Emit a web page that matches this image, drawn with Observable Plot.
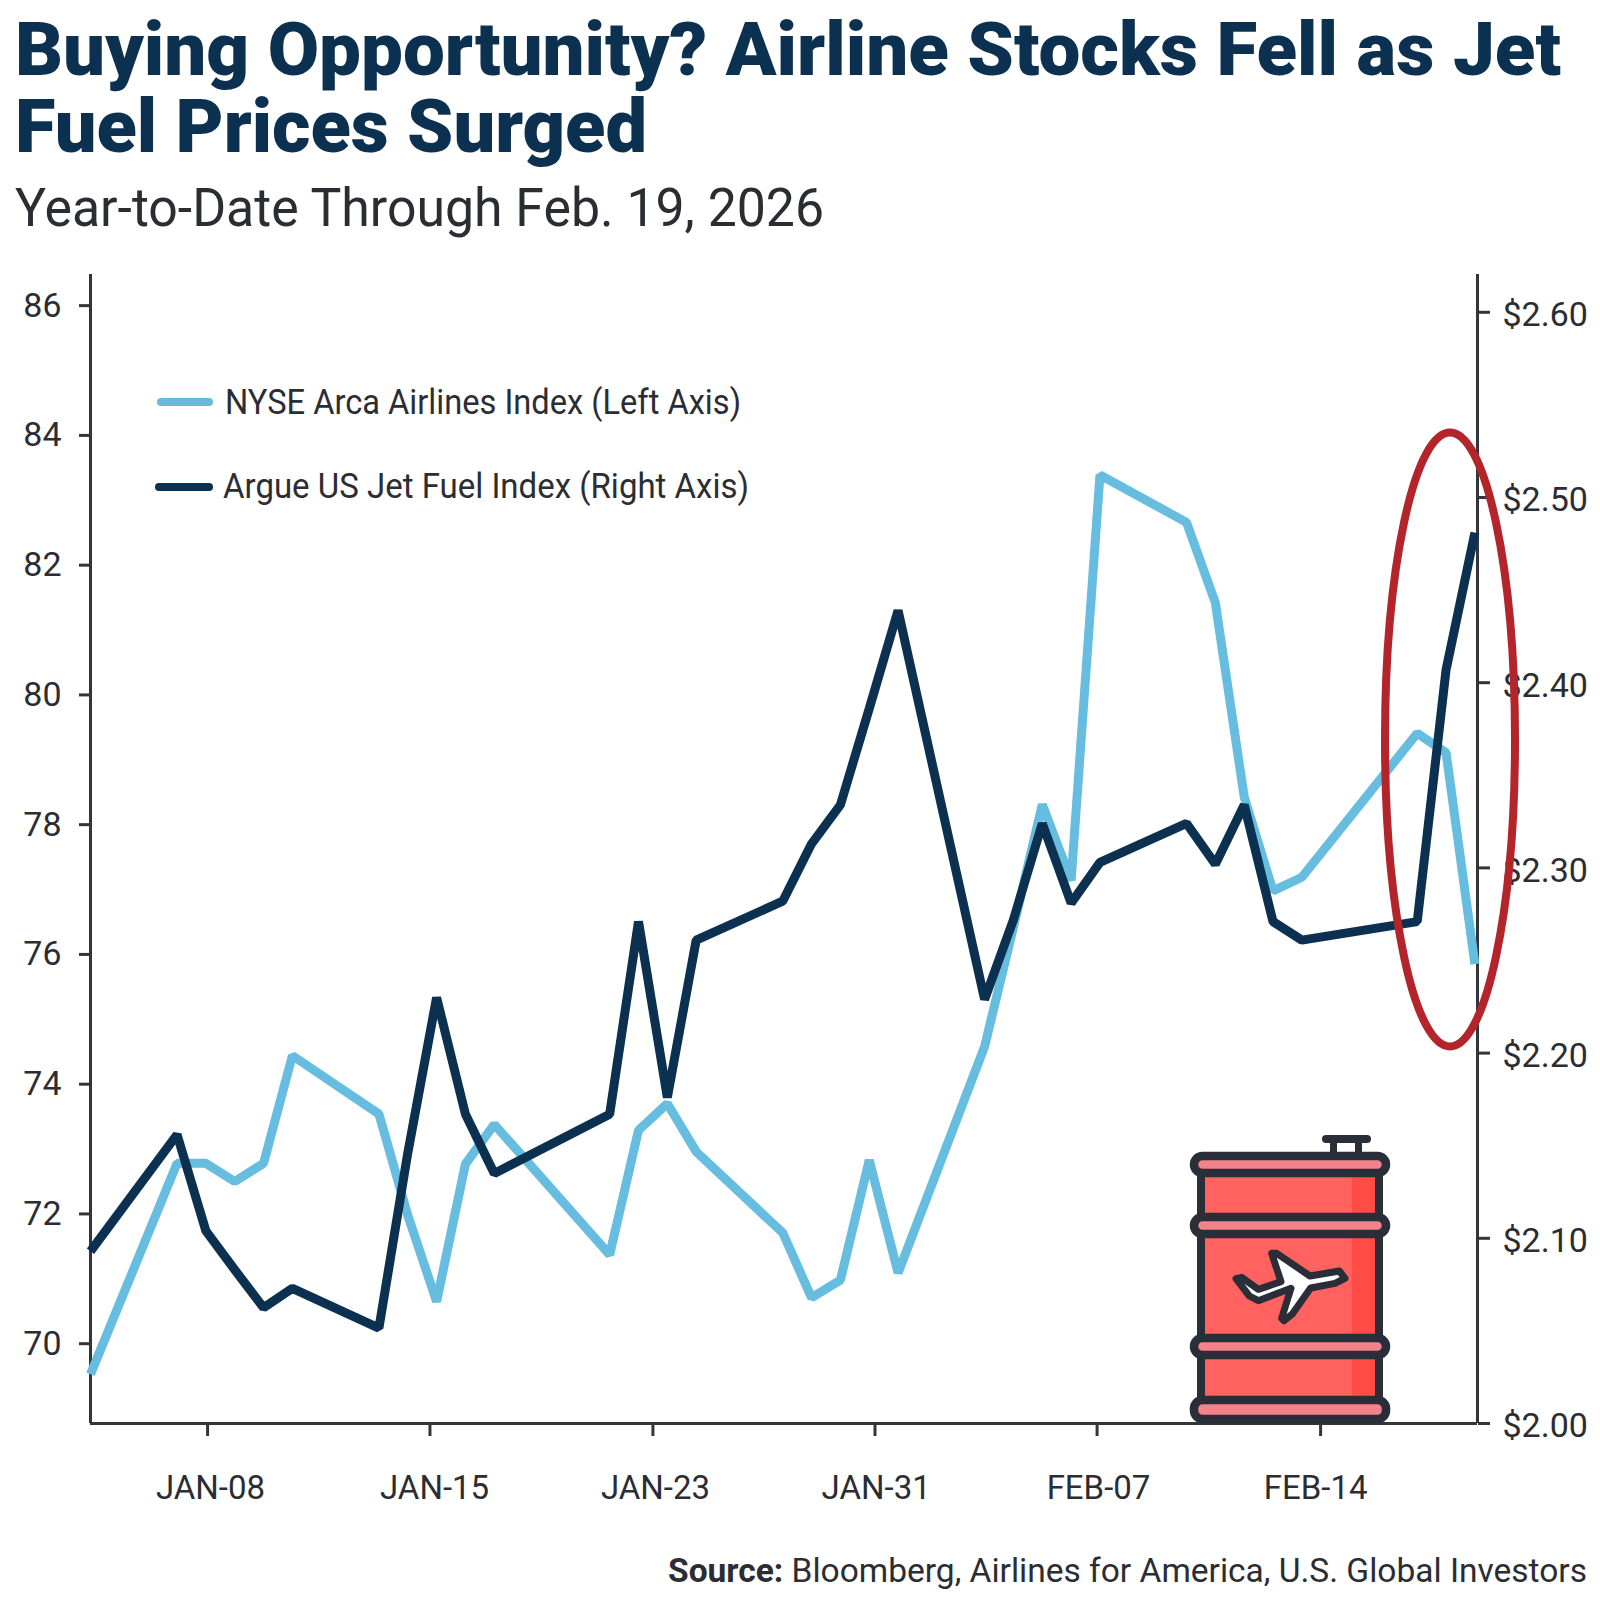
<!DOCTYPE html>
<html><head><meta charset="utf-8">
<script src="https://cdn.jsdelivr.net/npm/d3@7"></script>
<script src="https://cdn.jsdelivr.net/npm/@observablehq/plot@0.6"></script>
<style>
html,body{margin:0;padding:0;background:#fff}
#wrap{position:relative;width:1600px;height:1600px;overflow:hidden;font-family:Roboto,sans-serif;color:#2b2d33}
.t{position:absolute;white-space:nowrap;line-height:1;transform-origin:0 50%}
.title{font-weight:900;font-size:74px;color:#0c3050;left:15px}
.sub{font-size:54px;left:15px;color:#2b2d33}
.leg{font-size:35px}
.src{font-size:33px}
.sw{position:absolute;height:8px;border-radius:4px}
#plot{position:absolute;left:0;top:260px}
</style></head><body>
<div id="wrap">
<div class="t title" data-w="1546" style="top:13px">Buying Opportunity? Airline Stocks Fell as Jet</div>
<div class="t title" data-w="632" style="top:90px">Fuel Prices Surged</div>
<div class="t sub" data-w="809" style="top:181px">Year-to-Date Through Feb. 19, 2026</div>
<div id="plot"></div>
<div class="sw" style="left:157px;top:398px;width:56px;background:#6bb9d8"></div>
<div class="t leg" data-w="516" style="left:225px;top:385px">NYSE Arca Airlines Index (Left Axis)</div>
<div class="sw" style="left:155px;top:483px;width:58px;background:#0c3050"></div>
<div class="t leg" data-w="526" style="left:223px;top:469px">Argue US Jet Fuel Index (Right Axis)</div>
<div class="t src" data-w="919" style="left:668px;top:1554px"><b>Source:</b> Bloomberg, Airlines for America, U.S. Global Investors</div>
</div>
<script>
const dates = ["01-02","01-05","01-06","01-07","01-08","01-09","01-12","01-13","01-14","01-15","01-16","01-20","01-21","01-22","01-23","01-26","01-27","01-28","01-29","01-30","02-02","02-03","02-04","02-05","02-06","02-09","02-10","02-11","02-12","02-13","02-17","02-18","02-19"];
const airlines = [69.53,72.78,72.78,72.5,72.78,74.44,73.54,71.98,70.65,72.77,73.38,71.37,73.29,73.7,72.96,71.71,70.71,70.98,72.83,71.09,74.58,76.42,78.31,77.14,83.39,82.66,81.42,78.43,76.98,77.19,79.41,79.11,75.85];
const jetFuel = [2.093,2.156,2.104,2.083,2.0625,2.073,2.0515,2.146,2.23,2.167,2.135,2.167,2.271,2.176,2.261,2.282,2.313,2.334,2.386,2.439,2.229,2.272,2.324,2.281,2.303,2.324,2.302,2.334,2.271,2.261,2.271,2.407,2.481];
const xTickDays = [4.06,11.77,19.5,27.2,34.9,42.65];
const xLabelDays = [4.16,11.93,19.59,27.24,34.95,42.48];
const xTickLabels = ["JAN-08","JAN-15","JAN-23","JAN-31","FEB-07","FEB-14"];
const leftTicks = [70,72,74,76,78,80,82,84,86];
const rightTicks = [2.0,2.1,2.2,2.3,2.4,2.5,2.6];
const leftDomain = [68.77,86.48];
const rightDomain = [2.0,2.6204];
const xDomain = [0,48.09];

const day = s => (new Date("2026-"+s+"T00:00:00Z") - new Date("2026-01-02T00:00:00Z"))/864e5;
const fuelToLeft = d3.scaleLinear().domain(rightDomain).range(leftDomain);
const airlineRows = dates.map((d,i)=>({x:day(d),y:airlines[i]}));
const fuelRows = dates.map((d,i)=>({x:day(d),y:fuelToLeft(jetFuel[i])}));
const labelRows = xTickLabels.map((t,i)=>({x:xLabelDays[i],t}));
const AXIS="#33353b", TEXT="#2b2d33", TOP=260;

function decoration(){
  const ns="http://www.w3.org/2000/svg";
  const g=document.createElementNS(ns,"g");
  g.setAttribute("transform",`translate(0,${-TOP})`);
  const DARK="#2a2e38",BODY="#ff625f",SHADE="#ff4c47",BAND="#f2838a";
  const add=(tag,a)=>{const e=document.createElementNS(ns,tag);for(const k in a)e.setAttribute(k,a[k]);g.appendChild(e);return e};
  add("rect",{x:1322,y:1135,width:49,height:8,rx:4,fill:DARK});
  add("rect",{x:1330,y:1140,width:7,height:14,fill:DARK});
  add("rect",{x:1355,y:1140,width:7,height:14,fill:DARK});
  add("rect",{x:1201,y:1165,width:178,height:245,fill:BODY,stroke:DARK,"stroke-width":8});
  add("rect",{x:1352,y:1170,width:23,height:240,fill:SHADE});
  for(const y of [1152,1213,1334,1396]){
    add("rect",{x:1194,y:y+4,width:192,height:y===1396?19:17,rx:8.5,fill:BAND,stroke:DARK,"stroke-width":8.5});
  }
  const pts=[[318,566],[335,562],[385,598],[453,575],[425,490],[440,490],[540,558],[628,543],[645,565],[615,580],[542,594],[487,672],[462,692],[455,685],[483,595],[385,632],[358,618]];
  add("polygon",{points:pts.map(([a,b])=>`${1130+a/3},${1090+b/3}`).join(" "),fill:"#fff",stroke:DARK,"stroke-width":7,"stroke-linejoin":"round"});
  add("ellipse",{cx:1450,cy:739.5,rx:65,ry:307,fill:"none",stroke:"#b3242b","stroke-width":8});
  return g;
}

const chart = Plot.plot({
  width:1600,height:1250,
  marginLeft:90,marginRight:123,marginTop:14,marginBottom:87,
  style:{fontFamily:"Roboto,sans-serif",background:"#fff",overflow:"visible"},
  x:{type:"linear",domain:xDomain,axis:null},
  y:{type:"linear",domain:leftDomain,axis:null},
  marks:[
    Plot.axisY(leftTicks,{anchor:"left",label:null,tickSize:11,tickPadding:18,fontSize:34,color:TEXT,stroke:AXIS,strokeWidth:3,tickFormat:d=>String(d)}),
    Plot.axisY(rightTicks.map(fuelToLeft),{anchor:"right",label:null,tickSize:12,stroke:AXIS,strokeWidth:3,tickFormat:()=>""}),
    Plot.axisY(rightTicks.map(fuelToLeft),{anchor:"right",label:null,tickSize:0,tickPadding:25,dy:3,fontSize:34,color:TEXT,
      tickFormat:v=>"$"+fuelToLeft.invert(v).toFixed(2)}),
    Plot.axisX(xTickDays,{anchor:"bottom",label:null,tickSize:13,stroke:AXIS,strokeWidth:3,tickFormat:()=>""}),
    Plot.text(labelRows,{x:"x",text:"t",frameAnchor:"bottom",dy:75,lineAnchor:"bottom",fontSize:33,fill:TEXT}),
    Plot.ruleX([xDomain[0],xDomain[1]],{stroke:AXIS,strokeWidth:3}),
    Plot.ruleY([leftDomain[0]],{stroke:AXIS,strokeWidth:3}),
    Plot.line(airlineRows,{x:"x",y:"y",stroke:"#66bde0",strokeWidth:9,strokeLinejoin:"miter",strokeLinecap:"butt",curve:"linear"}),
    Plot.line(fuelRows,{x:"x",y:"y",stroke:"#0c3050",strokeWidth:9,strokeLinejoin:"miter",strokeLinecap:"butt",curve:"linear"}),
    decoration
  ]
});
document.getElementById("plot").appendChild(chart);
document.querySelectorAll(".t").forEach(el=>{
  const w=el.getBoundingClientRect().width;
  el.style.transform=`scaleX(${el.dataset.w/w})`;
});
</script>
</body></html>
